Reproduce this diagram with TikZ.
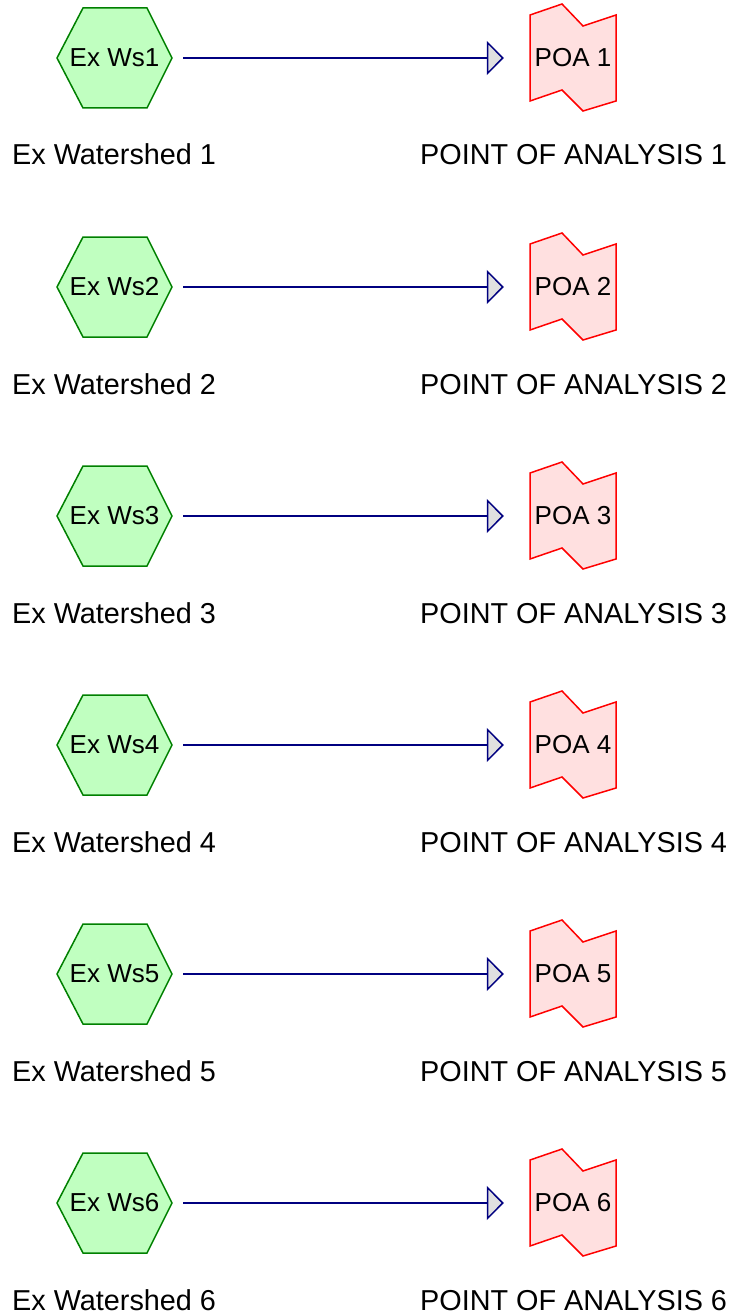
\documentclass[tikz,border=0pt]{standalone}
\usepackage{fontspec}
\setmainfont{Liberation Sans}
\usetikzlibrary{arrows.meta}
\definecolor{hexfill}{HTML}{C0FFC0}
\definecolor{hexline}{HTML}{008000}
\definecolor{poafill}{HTML}{FFE0E0}
\definecolor{poaline}{HTML}{FF0000}
\definecolor{arrline}{HTML}{000080}
\definecolor{arrfill}{HTML}{E0E0E0}
\tikzset{
  hexshape/.style={draw=hexline, fill=hexfill, line width=1.5pt, line join=miter},
  boxnode/.style={inner sep=0pt, font=\fontsize{26}{30}\selectfont},
  poashape/.style={draw=poaline, fill=poafill, line width=1.5pt, line join=miter},
  flow/.style={draw=arrline, line width=1.5pt,
    -{Triangle[length=17pt,width=34pt,fill=arrfill,line join=miter]}},
  lbl/.style={anchor=base west, inner sep=0pt, font=\fontsize{28.8}{32}\selectfont}
}
\begin{document}
\begin{tikzpicture}[x=1pt,y=-1pt]
\useasboundingbox (0,0) rectangle (730,1316);
\foreach \i in {1,...,6} {
  \pgfmathsetmacro\yy{58+229*(\i-1)}
  \begin{scope}[shift={(0,\yy)}]
    \draw[hexshape] (57,0) -- (83,-50) -- (147,-50) -- (172,0) -- (147,50) -- (83,50) -- cycle;
    \draw[poashape] (530,-43) -- (562,-54) -- (583,-32) -- (616,-43) -- (616,43) -- (583,53) -- (562,32) -- (530,43) -- cycle;
    \node[boxnode, minimum width=115pt, minimum height=100pt] (ws\i) at (114.5,0) {Ex Ws\i};
    \node[boxnode, minimum width=86pt, minimum height=86pt] (poa\i) at (573,0) {POA \i};
    \draw[flow, shorten <=11pt, shorten >=26pt] (ws\i.east) -- (poa\i.west);
    \node[lbl] (wl\i) at (12,107) {Ex Watershed \i};
    \node[lbl] (pl\i) at (420,107) {POINT OF ANALYSIS \i};
  \end{scope}
}
\end{tikzpicture}
\end{document}
